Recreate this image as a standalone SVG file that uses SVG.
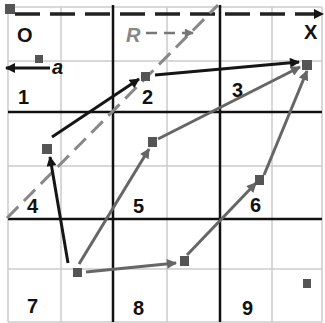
<svg xmlns="http://www.w3.org/2000/svg" width="325" height="323" viewBox="0 0 325 323">
<defs>
<style>
.thin{stroke:#cccccc;stroke-width:1.5;fill:none}
.thick{stroke:#111;stroke-width:2.5;fill:none}
.blk{stroke:#151515;stroke-width:3;fill:none}
.gry{stroke:#666;stroke-width:3;fill:none}
.sq{fill:#555}
.num{font-family:"Liberation Sans",Arial,sans-serif;font-weight:bold;font-size:20px;fill:#111}
</style>
<marker id="ab" viewBox="0 0 10 10" refX="9" refY="5" markerWidth="11" markerHeight="10" markerUnits="userSpaceOnUse" orient="auto"><path d="M0,0 L10,5 L0,10 Z" fill="#151515"/></marker>
<marker id="ag" viewBox="0 0 10 10" refX="9" refY="5" markerWidth="11" markerHeight="10" markerUnits="userSpaceOnUse" orient="auto"><path d="M0,0 L10,5 L0,10 Z" fill="#666"/></marker>
<marker id="ar" viewBox="0 0 10 10" refX="9" refY="5" markerWidth="10" markerHeight="9" markerUnits="userSpaceOnUse" orient="auto"><path d="M0,0 L10,5 L0,10 Z" fill="#777"/></marker>
</defs>
<rect width="325" height="323" fill="#fff"/>
<g id="grid">
<path class="thin" d="M8,7V322M61,7V322M167,7V322M272,7V322M322,7V322M8,7H322M8,61H322M8,166H322M8,269H322M8,322H322"/>
<path class="thick" d="M113,5V322M220,5V322M8,112H322M8,219H322"/>
</g>
<g id="labels">
<text class="num" x="18" y="104">1</text>
<text class="num" x="142" y="104">2</text>
<text class="num" x="232" y="97">3</text>
<text class="num" x="27" y="213">4</text>
<text class="num" x="133" y="213">5</text>
<text class="num" x="250" y="212">6</text>
<text class="num" x="27" y="313">7</text>
<text class="num" x="133" y="315">8</text>
<text class="num" x="242" y="315">9</text>
<text class="num" x="17" y="42" font-size="19">O</text>
<text class="num" x="304" y="39" font-size="19">X</text>
<text x="126" y="42" font-family="Liberation Sans,Arial,sans-serif" font-size="20" font-style="italic" font-weight="bold" fill="#888">R</text>
<text x="52" y="74" font-family="Liberation Sans,Arial,sans-serif" font-size="20" font-style="italic" font-weight="bold" fill="#111">a</text>
</g>
<g id="connectors">
<line x1="15" y1="14" x2="323" y2="14" stroke="#222" stroke-width="3.5" stroke-dasharray="25,10" marker-end="url(#ab)"/>
<line x1="7" y1="218" x2="218" y2="5" stroke="#888" stroke-width="3" stroke-dasharray="16,8"/>
<line x1="146" y1="33" x2="193" y2="33" stroke="#777" stroke-width="2.5" stroke-dasharray="11,7" marker-end="url(#ar)"/>
<line class="blk" x1="50" y1="68" x2="6" y2="68" marker-end="url(#ab)"/>
<line class="blk" x1="52" y1="137" x2="139" y2="79" marker-end="url(#ab)"/>
<line class="blk" x1="155" y1="75" x2="299" y2="62" marker-end="url(#ab)"/>
<line class="blk" x1="68" y1="263" x2="50" y2="157" marker-end="url(#ab)"/>
<line class="gry" x1="79" y1="264" x2="149" y2="149" marker-end="url(#ag)"/>
<line class="gry" x1="158" y1="139" x2="300" y2="67" marker-end="url(#ag)"/>
<line class="gry" x1="86" y1="272" x2="176" y2="263" marker-end="url(#ag)"/>
<line class="gry" x1="187" y1="255" x2="256" y2="183" marker-end="url(#ag)"/>
<line class="gry" x1="264" y1="175" x2="307" y2="71" marker-end="url(#ag)"/>
</g>
<g id="points">
<rect class="sq" x="5" y="4" width="10" height="10"/>
<rect class="sq" x="35" y="55" width="8" height="8"/>
<rect class="sq" x="141" y="72" width="9" height="9"/>
<rect class="sq" x="302" y="60" width="10" height="10"/>
<rect class="sq" x="42" y="144" width="10" height="10"/>
<rect class="sq" x="148" y="137" width="9" height="10"/>
<rect class="sq" x="73" y="268" width="9" height="9"/>
<rect class="sq" x="180" y="256" width="9" height="10"/>
<rect class="sq" x="255" y="175" width="9" height="10"/>
<rect class="sq" x="303" y="279" width="8" height="9"/>
</g>
</svg>
